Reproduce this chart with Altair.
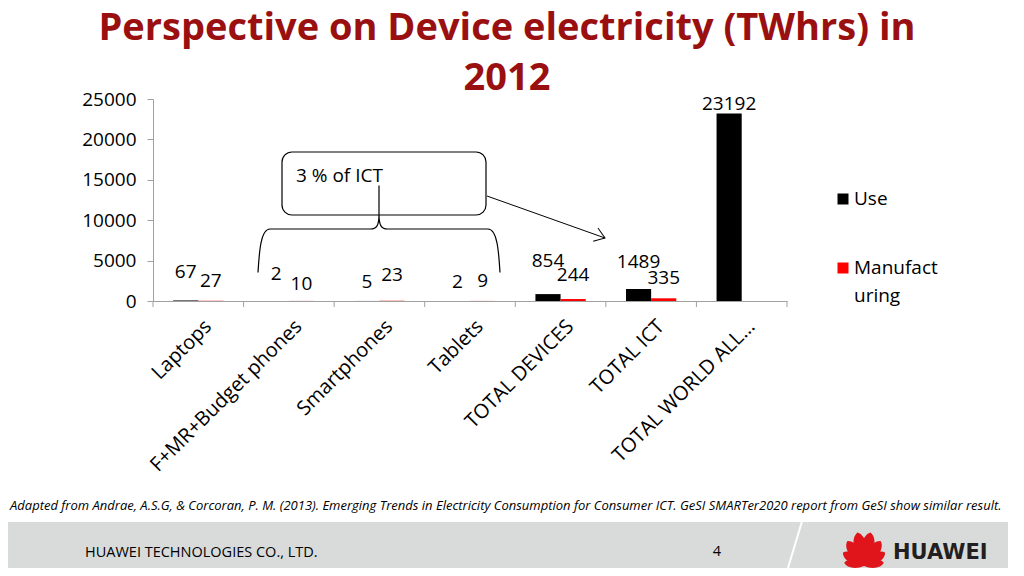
import math
import altair as alt
import pandas as pd

# ---------------- data ----------------
categories = ["Laptops", "F+MR+Budget phones", "Smartphones", "Tablets",
              "TOTAL DEVICES", "TOTAL ICT", "TOTAL WORLD ALL…"]
series = ["Use", "Manufacturing"]
use_values = [67, 2, 5, 2, 854, 1489, 23192]
manuf_values = [27, 10, 23, 9, 244, 335, None]
# vertical spot (in TWh units) where each hand-placed data label sits
use_label_y = [3626, 3342, 2389, 2389, 4988, 4864, 24381]
manuf_label_y = [2512, 2104, 3218, 2512, 3218, 2847, None]
y_ticks = [0, 5000, 10000, 15000, 20000, 25000]
colors = ["#000000", "#ff0000"]
title_lines = ["Perspective on Device electricity (TWhrs) in", "2012"]
callout = "3 % of ICT"
source_note = ("Adapted from Andrae, A.S.G, & Corcoran, P. M. (2013). Emerging Trends in Electricity "
               "Consumption for Consumer ICT.  GeSI SMARTer2020 report from GeSI show similar result.")
footer_company = "HUAWEI TECHNOLOGIES CO., LTD."
page_number = "4"
brand = "HUAWEI"

rows = []
for i, c in enumerate(categories):
    rows.append({"category": c, "series": series[0], "value": use_values[i], "label_y": use_label_y[i]})
    rows.append({"category": c, "series": series[1], "value": manuf_values[i], "label_y": manuf_label_y[i]})
df = pd.DataFrame(rows)
cat_df = pd.DataFrame({"category": categories})

FONT = "Open Sans"
W, H = 634, 202
AXIS_GREY = "#a0a0a0"
TITLE_RED = "#9a1010"

x_axis = alt.Axis(title=None, ticks=False, labelAngle=-45, labelAlign="right",
                  labelBaseline="middle", labelPadding=22, labelOffset=10, labelFontSize=20,
                  labelFont=FONT, labelColor="#000000", domainColor=AXIS_GREY,
                  labelLimit=400, grid=False)
y_axis = alt.Axis(title=None, values=y_ticks, format="d", grid=False, tickSize=6,
                  tickColor=AXIS_GREY, domainColor=AXIS_GREY, labelFontSize=19,
                  labelFont=FONT, labelColor="#000000", labelPadding=11)
x_scale = alt.Scale(paddingInner=0, paddingOuter=0)
y_scale = alt.Scale(domain=[0, 25000], nice=False)
xoff_enc = alt.XOffset("series:N", sort=series,
                       scale=alt.Scale(paddingInner=0, paddingOuter=0.8))

bars = alt.Chart(df).transform_filter("isValid(datum.value)").mark_bar().encode(
    x=alt.X("category:N", sort=categories, scale=x_scale, axis=x_axis),
    xOffset=xoff_enc,
    y=alt.Y("value:Q", scale=y_scale, axis=y_axis),
    color=alt.Color("series:N", sort=series,
                    scale=alt.Scale(domain=series, range=colors), legend=None),
)

labels = alt.Chart(df).transform_filter("isValid(datum.value)").mark_text(
    font=FONT, fontSize=19, baseline="middle", align="center", color="#000000"
).encode(
    x=alt.X("category:N", sort=categories, scale=x_scale, axis=x_axis),
    xOffset=xoff_enc,
    y=alt.Y("label_y:Q", scale=y_scale, axis=y_axis),
    text=alt.Text("value:Q", format="d"),
)

# category boundary ticks (Excel style)
cat_ticks = alt.Chart(cat_df).mark_rule(color=AXIS_GREY).encode(
    x=alt.X("category:N", sort=categories, bandPosition=0, scale=x_scale, axis=x_axis),
    y=alt.value(H), y2=alt.value(H + 6),
)
one = pd.DataFrame({"k": [0]})
end_tick = alt.Chart(one).mark_rule(color=AXIS_GREY).encode(
    x=alt.value(W), y=alt.value(H), y2=alt.value(H + 6))

# title
title1 = alt.Chart(one).mark_text(
    text=title_lines[0], font=FONT, fontSize=38, fontWeight="bold", color=TITLE_RED,
    align="center", baseline="middle").encode(x=alt.value(354), y=alt.value(-70))
title2 = alt.Chart(one).mark_text(
    text=title_lines[1], font=FONT, fontSize=38, fontWeight="bold", color=TITLE_RED,
    align="center", baseline="middle").encode(x=alt.value(354), y=alt.value(-20))

# callout box, brace and arrow
box = alt.Chart(one).mark_rect(fill="white", stroke="#000000", strokeWidth=1.2,
                               cornerRadius=10).encode(
    x=alt.value(129), x2=alt.value(333), y=alt.value(53), y2=alt.value(116))
box_text = alt.Chart(one).mark_text(text=callout, font=FONT, fontSize=19, align="left",
                                    baseline="middle", color="#000000").encode(
    x=alt.value(143), y=alt.value(77))
brace_path = ("M-1,0.36 C-0.99,0.2 -0.98,0 -0.9,0 L-0.07,0 C-0.02,0 0,-0.03 0,-0.12 L0,-0.36 "
              "M0,-0.12 C0,-0.03 0.02,0 0.07,0 L0.9,0 C0.98,0 0.99,0.2 1,0.36")
brace = alt.Chart(one).mark_point(shape=brace_path, filled=False, stroke="#000000",
                                  strokeWidth=1.2, size=242 * 242, opacity=1).encode(
    x=alt.value(226), y=alt.value(130))
arrow_line = alt.Chart(one).mark_rule(color="#000000", strokeWidth=1).encode(
    x=alt.value(334), y=alt.value(97), x2=alt.value(452), y2=alt.value(139))
arrow_head = alt.Chart(one).mark_point(shape="M-1,-0.7 L0,0 L-1,0.7", filled=False,
                                       stroke="#000000", strokeWidth=1, size=400,
                                       angle=19.6, opacity=1).encode(
    x=alt.value(452), y=alt.value(139))

# legend (hand placed like the original)
leg_use_sq = alt.Chart(one).mark_square(color=colors[0], size=121, opacity=1).encode(
    x=alt.value(690), y=alt.value(100))
leg_use_tx = alt.Chart(one).mark_text(text=series[0], font=FONT, fontSize=19, align="left",
                                      baseline="middle", color="#000000").encode(
    x=alt.value(701), y=alt.value(100))
leg_man_sq = alt.Chart(one).mark_square(color=colors[1], size=121, opacity=1).encode(
    x=alt.value(690), y=alt.value(169))
leg_man_tx1 = alt.Chart(one).mark_text(text=series[1][:8], font=FONT, fontSize=19, align="left",
                                       baseline="middle", color="#000000").encode(
    x=alt.value(701), y=alt.value(169))
leg_man_tx2 = alt.Chart(one).mark_text(text=series[1][8:], font=FONT, fontSize=19, align="left",
                                       baseline="middle", color="#000000").encode(
    x=alt.value(701), y=alt.value(197))

# source note and footer
note = alt.Chart(one).mark_text(text=source_note, font=FONT, fontSize=13, fontStyle="italic",
                                align="left", baseline="middle", color="#000000").encode(
    x=alt.value(-143), y=alt.value(407))
band = alt.Chart(one).mark_rect(color="#d9dbdb").encode(
    x=alt.value(-145), x2=alt.value(855), y=alt.value(423), y2=alt.value(469))
slash = alt.Chart(one).mark_rule(color="white", strokeWidth=2).encode(
    x=alt.value(650), y=alt.value(419), x2=alt.value(635), y2=alt.value(469))
company = alt.Chart(one).mark_text(text=footer_company, font=FONT, fontSize=14.5,
                                   align="left", baseline="middle", color="#000000").encode(
    x=alt.value(-68), y=alt.value(454))
pnum = alt.Chart(one).mark_text(text=page_number, font=FONT, fontSize=14.5,
                                align="center", baseline="middle", color="#000000").encode(
    x=alt.value(564), y=alt.value(453))
brand_tx = alt.Chart(one).mark_text(text=brand, font="DejaVu Sans", fontSize=21,
                                    fontWeight="bold", align="left", baseline="middle",
                                    color="#231f20").encode(x=alt.value(740), y=alt.value(454))

petal_path = "M0,1 C0.5,0.3 0.5,-0.75 0,-1 C-0.5,-0.75 -0.5,0.3 0,1 Z"
petal_layers = []
base_x, base_y = 864 - 153, 566 - 99
for ang, length in [(-80, 20), (-57, 25), (-34, 30), (-11, 34),
                    (11, 34), (34, 30), (57, 25), (80, 20)]:
    a = math.radians(ang)
    cx = base_x + length / 2 * math.sin(a)
    cy = base_y - length / 2 * math.cos(a)
    petal_layers.append(
        alt.Chart(one).mark_point(shape=petal_path, filled=True, fill="#e0151b",
                                  strokeWidth=0, size=length * length, angle=ang % 360,
                                  opacity=1).encode(x=alt.value(cx), y=alt.value(cy)))

chart = alt.layer(
    band, slash, bars, cat_ticks, end_tick, labels, title1, title2, box, brace, box_text,
    arrow_line, arrow_head, leg_use_sq, leg_use_tx, leg_man_sq, leg_man_tx1, leg_man_tx2,
    note, company, pnum, brand_tx, *petal_layers,
).properties(
    width=W, height=H,
    padding={"left": 145, "top": 91, "right": 229, "bottom": 267},
    autosize=alt.AutoSizeParams(type="none"),
    background="white",
).configure_view(stroke=None)

chart.save("out.html", embed_options={"renderer": "svg", "actions": False})
